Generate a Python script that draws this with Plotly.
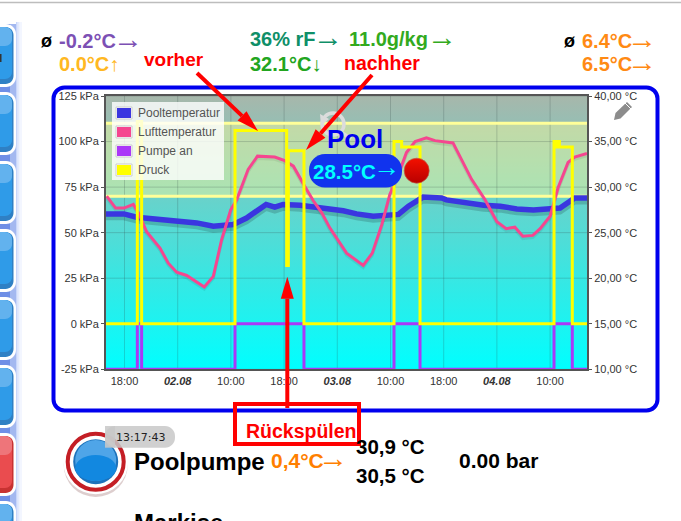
import plotly.graph_objects as go
import pandas as pd

W = 681
H = 521

# plot area in the page (pixels)
PLOT_LEFT, PLOT_RIGHT, PLOT_TOP, PLOT_BOTTOM = 106, 587, 96, 369.3

t0 = pd.Timestamp("2017-08-01 18:00")

tick_hours = [0, 8, 16, 24, 32, 40, 48, 56, 64]
tick_labels = ["18:00", "<b><i>02.08</i></b>", "10:00", "18:00", "<b><i>03.08</i></b>",
               "10:00", "18:00", "<b><i>04.08</i></b>", "10:00"]
kpa_ticks = [-25, 0, 25, 50, 75, 100, 125]
kpa_labels = ["-25 kPa", "0 kPa", "25 kPa", "50 kPa", "75 kPa", "100 kPa", "125 kPa"]
temp_ticks = [10, 15, 20, 25, 30, 35, 40]
temp_labels = ["10,00 °C", "15,00 °C", "20,00 °C", "25,00 °C", "30,00 °C", "35,00 °C", "40,00 °C"]

pool_hours = [-2.78, -0.08, 1.83, 5.34, 10.86, 13.36, 16.35, 18.35, 21.3, 22.6, 23.85, 26.4, 28.9,
              32.9, 34.9, 37.4, 41.2, 42.7, 44.9, 47.7, 48.4, 54.0, 56.5, 59.0, 61.5, 64.5, 65.5, 67.7, 69.55]
pool_temp = [27.06, 27.06, 26.7, 26.47, 26.07, 25.7, 25.9, 26.6, 28.1, 27.8, 28.1, 28.0, 27.8,
             27.4, 27.06, 26.8, 27.0, 27.9, 28.9, 28.8, 28.6, 28.0, 27.9, 27.6, 27.5, 27.57, 27.7, 28.8, 28.8]

air_hours = [-2.68, -1.33, -0.08, 1.33, 2.09, 3.33, 5.34, 6.59, 7.85, 9.35, 12.0, 13.36, 14.6, 15.97,
             16.87, 18.6, 20.0, 22.6, 24.1, 25.4, 27.1, 28.4, 29.65, 30.9, 33.4, 35.9, 37.26, 38.7,
             39.9, 41.2, 42.4, 43.7, 45.4, 46.7, 49.4, 50.7, 52.2, 54.2, 56.0, 57.4, 58.7, 59.9,
             61.4, 62.5, 64.0, 65.2, 66.7, 67.7, 69.55]
air_temp = [29.0, 27.7, 27.7, 28.1, 27.2, 25.1, 23.3, 21.65, 20.66, 20.3, 19.04, 20.2, 24.2, 27.5,
            28.6, 31.95, 33.4, 33.3, 32.9, 32.3, 30.1, 28.5, 27.2, 25.5, 22.75, 21.4, 22.75, 25.9,
            29.2, 31.4, 33.8, 35.0, 35.4, 35.1, 34.85, 33.05, 30.85, 28.64, 26.2, 25.44, 25.6, 24.6,
            24.7, 25.44, 26.8, 29.93, 32.7, 33.3, 33.7]

druck_hours = [-2.78, 1.93, 1.93, 2.58, 2.58, 16.62, 16.62, 24.39, 24.39, 24.64, 24.64, 26.99, 26.99,
               40.53, 40.53, 41.68, 41.68, 44.44, 44.44, 64.59, 64.59, 64.99, 64.99, 65.2, 65.2,
               65.4, 65.4, 67.34, 67.34, 69.55]
druck_kpa = [0, 0, 111, 111, 0, 0, 106, 106, 32, 32, 95, 95, 0,
             0, 100, 100, 97, 97, 0, 0, 100, 100, 97, 97, 100,
             100, 97, 97, 0, 0]

pump_hours = [-2.78, 1.93, 1.93, 2.58, 2.58, 16.62, 16.62, 26.99, 26.99, 40.53, 40.53, 44.44, 44.44,
              64.59, 64.59, 67.34, 67.34, 69.55]
pump_kpa = [-25, -25, 0, 0, -25, -25, 0, 0, -25, -25, 0, 0, -25, -25, 0, 0, -25, -25]

band_low, band_high = 70, 110
lamp_hour, lamp_kpa = 43.94, 84

series_names = ["Pooltemperatur", "Lufttemperatur", "Pumpe an", "Druck"]
series_colors = ["#3a36e0", "#f5468f", "#aa38f8", "#ffff00"]


def when(hours):
    return t0 + pd.to_timedelta(hours, unit="h")


def px(x):
    return x / W


def py(y):
    return 1 - y / H


def rect(x0, y0, x1, y1, fill, line=None, width=0):
    return dict(type="rect", xref="paper", yref="paper", x0=px(x0), x1=px(x1), y0=py(y0), y1=py(y1),
                fillcolor=fill, line=dict(color=line or "rgba(0,0,0,0)", width=width))


def circle(cx, cy, rx, fill, line=None, width=0, ry=None):
    ry = ry or rx
    return dict(type="circle", xref="paper", yref="paper", x0=px(cx - rx), x1=px(cx + rx),
                y0=py(cy - ry), y1=py(cy + ry), fillcolor=fill,
                line=dict(color=line or "rgba(0,0,0,0)", width=width))


def path(points, fill=None, line=None, width=0, close=True):
    d = "M" + " L".join(f"{px(x):.5f},{py(y):.5f}" for x, y in points) + (" Z" if close else "")
    return dict(type="path", xref="paper", yref="paper", path=d, fillcolor=fill or "rgba(0,0,0,0)",
                line=dict(color=line or "rgba(0,0,0,0)", width=width))


def rounded(x0, y0, x1, y1, r, fill, line=None, width=0):
    k = r * 0.45
    d = (f"M{px(x0 + r)},{py(y0)} L{px(x1 - r)},{py(y0)} "
         f"C{px(x1 - k)},{py(y0)} {px(x1)},{py(y0 + k)} {px(x1)},{py(y0 + r)} "
         f"L{px(x1)},{py(y1 - r)} C{px(x1)},{py(y1 - k)} {px(x1 - k)},{py(y1)} {px(x1 - r)},{py(y1)} "
         f"L{px(x0 + r)},{py(y1)} C{px(x0 + k)},{py(y1)} {px(x0)},{py(y1 - k)} {px(x0)},{py(y1 - r)} "
         f"L{px(x0)},{py(y0 + r)} C{px(x0)},{py(y0 + k)} {px(x0 + k)},{py(y0)} {px(x0 + r)},{py(y0)} Z")
    return dict(type="path", xref="paper", yref="paper", path=d, fillcolor=fill,
                line=dict(color=line or "rgba(0,0,0,0)", width=width))


def arrow(x0, y0, x1, y1, head_len=22, head_w=13, width=4):
    length = ((x1 - x0) ** 2 + (y1 - y0) ** 2) ** 0.5
    ux, uy = (x1 - x0) / length, (y1 - y0) / length
    bx, by = x1 - ux * head_len, y1 - uy * head_len
    nx, ny = -uy, ux
    return [
        path([(x0, y0), (bx, by)], line="#ff0000", width=width, close=False),
        path([(x1, y1), (bx + nx * head_w / 2, by + ny * head_w / 2), (bx - nx * head_w / 2, by - ny * head_w / 2)],
             fill="#ff0000"),
    ]


def label(x, y, text, size, color="#000000", anchor="left", font="Liberation Sans"):
    return dict(xref="paper", yref="paper", x=px(x), y=py(y), text=text, showarrow=False, xanchor=anchor,
                yanchor="middle", borderpad=0, font=dict(family=font, size=size, color=color))


def trend(x, y, color, size=30):
    # the trend arrows are longer than the glyph of the text beside them
    item = label(x - size * 0.2, y - 3.5, "→", size, color)
    item["height"] = 18
    return item


fig = go.Figure()

# background gradient, threshold band and grid come first so the lines stay on top
fig.add_trace(go.Scatter(x=when([-2.78, 69.55, 69.55, -2.78]), y=[-25, -25, 125, 125], fill="toself", mode="none",
                         fillgradient=dict(type="vertical", colorscale=[[0, "#00ffff"], [1, "#a7b7ab"]]),
                         hoverinfo="skip"))
fig.add_trace(go.Scatter(x=when([-2.78, 69.55, 69.55, -2.78]), y=[band_low, band_low, band_high, band_high],
                         fill="toself", mode="none", fillcolor="rgba(255,252,150,0.43)", hoverinfo="skip"))

grid_x, grid_y = [], []
for h in tick_hours:
    grid_x += [h, h, None]
    grid_y += [-25, 125, None]
for v in kpa_ticks:
    grid_x += [-2.78, 69.55, None]
    grid_y += [v, v, None]
grid_times = [None if h is None else when(h) for h in grid_x]
fig.add_trace(go.Scatter(x=grid_times, y=grid_y, mode="lines", line=dict(color="rgba(50,70,70,0.22)", width=1),
                         hoverinfo="skip"))
for v in [band_low, band_high]:
    fig.add_trace(go.Scatter(x=when([-2.78, 69.55]), y=[v, v], mode="lines",
                             line=dict(color="#ffff99", width=3), hoverinfo="skip"))

# temperatures on the right axis
fig.add_trace(go.Scatter(x=when(pool_hours), y=[v - 0.4 for v in pool_temp], yaxis="y2", mode="lines",
                         line=dict(color="rgba(0,0,0,0.16)", width=5.5), hoverinfo="skip"))
fig.add_trace(go.Scatter(x=when(air_hours), y=[v - 0.25 for v in air_temp], yaxis="y2", mode="lines",
                         line=dict(color="rgba(0,0,0,0.07)", width=3), hoverinfo="skip"))
fig.add_trace(go.Scatter(x=when(pool_hours), y=pool_temp, yaxis="y2", mode="lines", name=series_names[0],
                         line=dict(color=series_colors[0], width=5.5)))
fig.add_trace(go.Scatter(x=when(air_hours), y=air_temp, yaxis="y2", mode="lines", name=series_names[1],
                         line=dict(color=series_colors[1], width=3)))

# pump and pressure, kPa again, on a hidden axis so they sit above the temperatures
fig.add_trace(go.Scatter(x=when(pump_hours), y=pump_kpa, yaxis="y3", mode="lines", name=series_names[2],
                         line=dict(color=series_colors[2], width=3)))
fig.add_trace(go.Scatter(x=when(druck_hours), y=druck_kpa, yaxis="y3", mode="lines", name=series_names[3],
                         line=dict(color=series_colors[3], width=3)))
fig.add_trace(go.Scatter(x=[when(lamp_hour)], y=[lamp_kpa], yaxis="y3", mode="markers", hoverinfo="skip",
                         marker=dict(size=25, color="#f41000", line=dict(color="rgba(190,90,70,0.7)", width=1),
                                     gradient=dict(type="vertical", color="#b80000"))))

shapes = [path([(0, 2.5), (W, 2.5)], line="#bdbdbd", width=1.5, close=False)]

# left side buttons with the blue glow behind them
shapes.append(rect(19.5, 22, 22, H, "#f3f6ff"))
shapes.append(rect(17.5, 22, 19.5, H, "#e2e9fd"))
shapes.append(rect(16, 22, 17.5, H, "#c8d6fa"))
shapes.append(rect(10, 24, 16, H, "#a3b8f0"))
shapes.append(rect(0, 24, 10, H, "#6f8fe6"))
for top, edge, main, light in [(24, "#2f80c4", "#2f9be8", "#62b2ee"), (92, "#2f80c4", "#2f9be8", "#62b2ee"),
                               (161, "#2f80c4", "#2f9be8", "#62b2ee"), (229, "#2f80c4", "#2f9be8", "#62b2ee"),
                               (297, "#2f80c4", "#2f9be8", "#62b2ee"), (365, "#2f80c4", "#2f9be8", "#62b2ee"),
                               (433, "#c83232", "#ea4c4f", "#ee757a"), (501, "#2f80c4", "#2f9be8", "#62b2ee")]:
    shapes.append(rounded(-12, top, 16, top + 63, 10, "#ffffff"))
    shapes.append(rounded(-12, top + 3, 13.5, top + 60, 8, edge))
    shapes.append(rounded(-12, top + 3, 12, top + 55, 7, main))
    shapes.append(rounded(-12, top + 3, 12, top + 22, 7, light))
shapes.append(rect(0, 54, 1.5, 62, "#333333"))

# outer blue frame
shapes.append(rounded(53.5, 87.5, 657.5, 410.5, 11, "rgba(0,0,0,0)", line="#0000ee", width=4))

# legend
shapes.append(rect(112, 102, 224, 180, "rgba(255,255,255,0.8)"))
for y_mid, color in zip([113, 132, 151, 170], series_colors):
    shapes.append(rect(116, y_mid - 6, 132, y_mid + 6, "#ffffff", line="#cccccc", width=1))
    shapes.append(rect(117, y_mid - 5, 131, y_mid + 5, color))

# reload icon, pencil, pool value pill
shapes.append(circle(333, 124, 11, "rgba(0,0,0,0)", line="#dcdcdc", width=3.5))
shapes.append(path([(341, 132), (351, 139)], line="#dcdcdc", width=3.5, close=False))
shapes.append(path([(320, 114), (329, 119), (321, 126)], fill="#dcdcdc"))
shapes.append(path([(614, 120), (615.5, 113), (627, 102), (632, 107), (620.5, 118.5)], fill="#8c8c8c"))
shapes.append(path([(625, 103), (631, 109)], line="#ffffff", width=1, close=False))
shapes.append(rounded(309, 154, 402, 187.5, 16, "#1133ee"))

# pump button
shapes.append(circle(95.7, 465, 32, "rgba(120,60,60,0.25)"))
shapes.append(circle(95.7, 461.7, 32.5, "#ffffff"))
shapes.append(circle(95.7, 461.7, 28, "#ffffff", line="#c41e25", width=4))
shapes.append(circle(95.7, 461.7, 22.5, "#1d72bb"))
shapes.append(circle(95.7, 460.5, 20.5, "#4fa5e8"))
shapes.append(circle(95.7, 468, 20.5, "#1288e0", ry=13))
shapes.append(rounded(105, 426, 175, 447.7, 10, "rgba(200,200,200,0.85)"))
shapes.append(rect(105, 426, 115, 447.7, "rgba(200,200,200,0.85)"))

# red notes
shapes += arrow(197, 73, 258, 131)
shapes += arrow(372, 75, 306, 150)
shapes += arrow(287.3, 408, 287.3, 276.7)
shapes.append(rect(235, 404, 359, 444, "rgba(0,0,0,0)", line="#ff0000", width=4))

annotations = [
    label(40, 41, "<b>ø</b>", 18),
    label(58, 41, "<b>-0.2°C</b>", 20, "#7c50b4"),
    trend(118, 41, "#7c50b4"),
    label(58, 64, "<b>0.0°C</b>↑", 20, "#ffb822"),
    label(249, 39, "<b>36% rF</b>", 20, "#0f8f68"),
    trend(318, 39, "#0f8f68"),
    label(348, 39, "<b>11.0g/kg</b>", 20, "#33aa1e"),
    trend(432, 39, "#33aa1e"),
    label(249, 64, "<b>32.1°C</b>↓", 20, "#22a520"),
    label(563, 41, "<b>ø</b>", 18),
    label(581, 41, "<b>6.4°C</b>", 20, "#ff8a14"),
    trend(632, 41, "#ff8a14"),
    label(581, 64, "<b>6.5°C</b>", 20, "#ff8a14"),
    trend(632, 64, "#ff8a14"),
    label(143, 60, "<b>vorher</b>", 19, "#ff0000"),
    label(343, 63, "<b>nachher</b>", 19.5, "#ff0000"),
    label(326, 139, "<b>Pool</b>", 26, "#0000ee"),
    label(312, 171, "<b>28.5°C</b>", 20.5, "#00ffff"),
    trend(377, 171, "#00ffff", 27),
    label(245, 431, "<b>Rückspülen</b>", 19.5, "#ff0000"),
    label(115, 437, "13:17:43", 11, "#222222", font="DejaVu Sans"),
    label(133, 461, "<b>Poolpumpe</b>", 24),
    label(270, 460, "<b>0,4°C</b>", 21, "#ff7f00"),
    trend(322.5, 460, "#ff7f00"),
    label(355, 446, "<b>30,9 °C</b>", 20.5),
    label(355, 475, "<b>30,5 °C</b>", 20.5),
    label(458, 460, "<b>0.00 bar</b>", 21),
    label(133, 522, "<b>Markise</b>", 24),
]
for y_mid, name in zip([113, 132, 151, 170], series_names):
    annotations.append(label(137, y_mid, name, 12, "#545454"))

tick_font = dict(family="Liberation Sans", size=11, color="#333333")

fig.update_layout(
    width=W, height=H, margin=dict(l=0, r=0, t=0, b=0), paper_bgcolor="#ffffff", plot_bgcolor="#ffffff",
    showlegend=False, shapes=shapes, annotations=annotations,
    xaxis=dict(type="date", domain=[px(PLOT_LEFT), px(PLOT_RIGHT)], range=[when(-2.78), when(69.55)],
               tickmode="array", tickvals=[when(h) for h in tick_hours], ticktext=tick_labels, automargin=False,
               tickfont=tick_font, tickangle=0, showgrid=False, zeroline=False, showline=True, linecolor="#555555",
               linewidth=2, mirror=True, ticks="", anchor="y"),
    yaxis=dict(domain=[py(PLOT_BOTTOM), py(PLOT_TOP)], range=[-25, 125], tickmode="array", tickvals=kpa_ticks,
               ticktext=kpa_labels, tickfont=tick_font, showgrid=False, zeroline=False, showline=True, automargin=False,
               linecolor="#555555", linewidth=2, ticks="outside", ticklen=3, tickcolor="#555555", anchor="x"),
    yaxis2=dict(overlaying="y", side="right", range=[10, 40], tickmode="array", tickvals=temp_ticks,
                ticktext=temp_labels, tickfont=tick_font, showgrid=False, zeroline=False, showline=True, automargin=False,
                linecolor="#555555", linewidth=2, ticks="outside", ticklen=3, tickcolor="#555555", anchor="x"),
    yaxis3=dict(overlaying="y", range=[-25, 125], visible=False, anchor="x", automargin=False),
)

fig.write_html("out.html", config={"displayModeBar": False}, post_script="document.body.style.margin='0';")
